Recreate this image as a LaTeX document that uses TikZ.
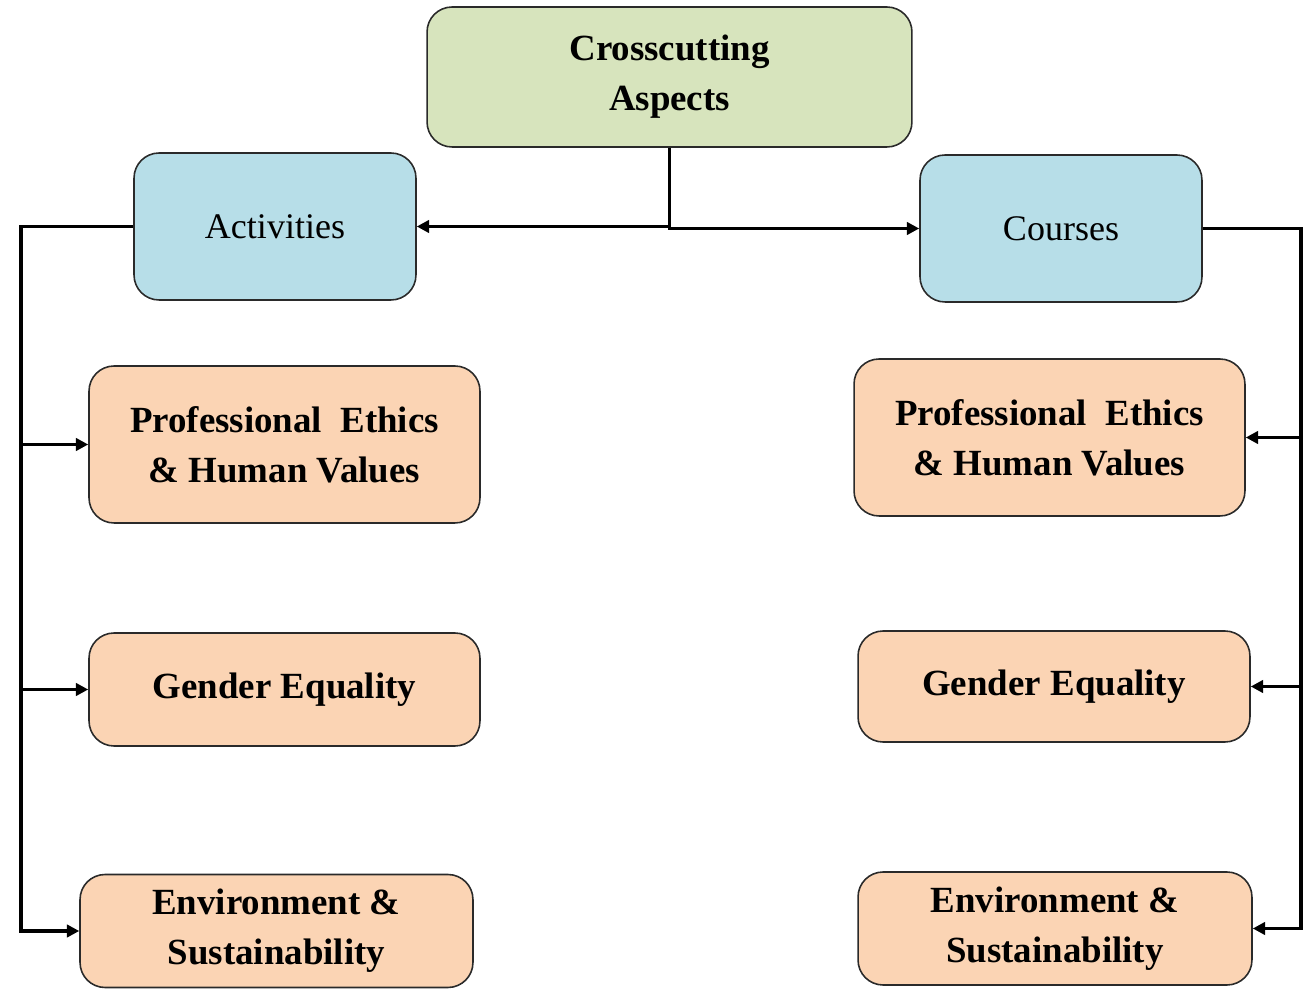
\documentclass[tikz,border=0pt]{standalone}
\usepackage{fontspec}
\setmainfont{Liberation Serif}
\usetikzlibrary{arrows.meta,calc}
\definecolor{cgreen}{HTML}{D7E4BD}
\definecolor{cblue}{HTML}{B7DEE8}
\definecolor{cpeach}{HTML}{FBD4B4}
\definecolor{cedge}{HTML}{2A2A2A}
\tikzset{
  box/.style={draw=cedge, line width=0.9pt, rounded corners=0.5cm, align=center,
    inner sep=0pt, font=\fontsize{21}{28}\selectfont},
  topbox/.style={box, fill=cgreen, font=\fontsize{21}{28.5}\selectfont\bfseries},
  midbox/.style={box, fill=cblue, font=\fontsize{20.5}{28}\selectfont},
  leafbox/.style={box, fill=cpeach, font=\fontsize{21}{28.5}\selectfont\bfseries},
  conn/.style={line width=2.1pt, draw=black},
  arr/.style={conn, -{Triangle[length=7pt,width=7pt]}},
}
\begin{document}
\begin{tikzpicture}[x=0.02cm,y=-0.02cm]
\useasboundingbox (0,0) rectangle (1313,989);
% nodes
\node[topbox, minimum width=9.7cm, minimum height=2.8cm] (cc) at (669.5,77) {Crosscutting\\Aspects};
\node[midbox, minimum width=5.64cm, minimum height=2.94cm] (act) at (275,226.5) {Activities};
\node[midbox, minimum width=5.64cm, minimum height=2.94cm] (cou) at (1061,228.5) {Courses};
\node[leafbox, minimum width=7.82cm, minimum height=3.14cm] (lpe) at (284.5,444.5) {Professional\ \ Ethics\\\& Human Values};
\node[leafbox, minimum width=7.82cm, minimum height=2.26cm] (lge) at (284.5,689.5) {Gender Equality};
\node[leafbox, minimum width=7.86cm, minimum height=2.26cm] (les) at (276.5,931) {Environment \&\\Sustainability};
\node[leafbox, minimum width=7.82cm, minimum height=3.14cm] (rpe) at (1049.5,437.5) {Professional\ \ Ethics\\\& Human Values};
\node[leafbox, minimum width=7.84cm, minimum height=2.22cm] (rge) at (1054,686.5) {Gender Equality};
\node[leafbox, minimum width=7.88cm, minimum height=2.26cm] (res) at (1055,928.5) {Environment \&\\Sustainability};
% rails
\coordinate (lx) at (21,0);
\coordinate (rx) at (1301,0);
% connectors
\draw[arr] (cc.south) |- (act.east);
\draw[arr] (cc.south) |- (cou.west);
\draw[arr] (act.west) -| (lx |- les.west) -- (les.west);
\draw[arr] (lx |- lpe.west) -- (lpe.west);
\draw[arr] (lx |- lge.west) -- (lge.west);
\draw[arr] (cou.east) -| (rx |- res.east) -- (res.east);
\draw[arr] (rx |- rpe.east) -- (rpe.east);
\draw[arr] (rx |- rge.east) -- (rge.east);
\end{tikzpicture}
\end{document}
